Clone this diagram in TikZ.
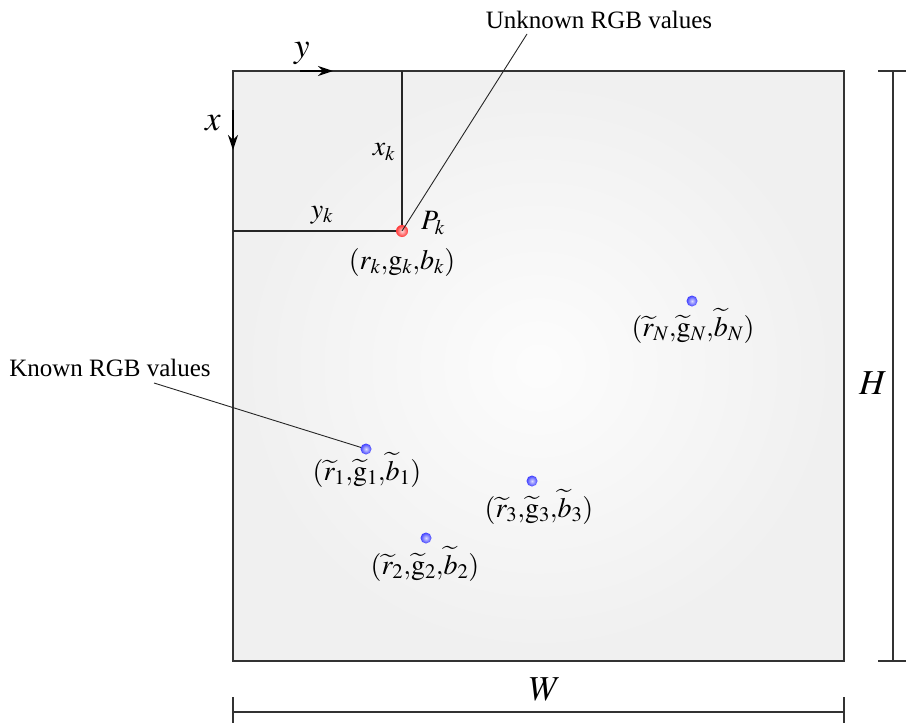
\documentclass[tikz,border=0pt]{standalone}
\usepackage{mathptmx}
\usepackage[no-math]{fontspec}
\setmainfont{Liberation Serif}
\usetikzlibrary{arrows.meta}
\begin{document}
\begin{tikzpicture}[x=1pt,y=-1pt,
  frame/.style={draw=black!80, line width=1.6pt},
  guide/.style={draw=black!85, line width=1.6pt},
  leader/.style={draw=black!85, line width=0.9pt},
  dimline/.style={draw=black!80, line width=1.2pt},
  txt/.style={inner sep=0pt, font=\fontsize{25}{30}\selectfont},
  mth/.style={inner sep=0pt, font=\fontsize{28}{32}\selectfont},
  axlab/.style={inner sep=0pt, font=\fontsize{35}{40}\selectfont},
  bluedot/.style={circle, inner sep=0pt, minimum size=11pt, inner color=blue!15!white, outer color=blue!75!white},
  reddot/.style={circle, inner sep=0pt, minimum size=12pt, inner color=red!15!white, outer color=red!80!white},
  axarrow/.style={-{Stealth[length=15pt,width=10pt]}, line width=1.6pt}]
\useasboundingbox (0,0) rectangle (906,723);
% frame
\coordinate (TL) at (233,71);
\coordinate (BR) at (844,661);
\shade[inner color=white!99!black, outer color=white!94!black] (TL) rectangle (BR);
\draw[frame] (TL) rectangle (BR);
% axes arrows
\coordinate (ya) at (300,71);
\coordinate (yb) at (333,71);
\coordinate (xa) at (233,110);
\coordinate (xb) at (233,150);
\draw[axarrow] (ya) -- (yb);
\draw[axarrow] (xa) -- (xb);
\node[axlab] (ylab) at (302,53) {$y$};
\node[axlab] (xlab) at (213,123) {$x$};
% point Pk and guides
\coordinate (Pkx) at (402,71);
\coordinate (Pky) at (233,231);
\draw[guide] (Pkx) -- (402,231) -- (Pky);
\node[reddot] (Pk) at (402,231) {};
\node[mth] (xk) at (384,152) {$x_k$};
\node[mth] (yk) at (322,215) {$y_k$};
\node[mth] (Pklab) at (433,223) {$P_k$};
\node[mth] (rgbk) at (402,262) {$(r_k{,}\mathrm{g}_k{,}b_k)$};
% unknown label
\node[txt] (unk) at (599,20) {Unknown RGB values};
\coordinate (unkend) at (527,34);
\draw[leader] (unkend) -- (Pk.center);
% known points
\node[mth] (l1) at (367,470) {$(\widetilde{r}_1{,}\widetilde{\mathrm{g}}_1{,}\widetilde{b}_1)$};
\node[mth] (l2) at (425,564) {$(\widetilde{r}_2{,}\widetilde{\mathrm{g}}_2{,}\widetilde{b}_2)$};
\node[mth] (l3) at (539,507) {$(\widetilde{r}_3{,}\widetilde{\mathrm{g}}_3{,}\widetilde{b}_3)$};
\node[mth] (lN) at (693,326) {$(\widetilde{r}_N{,}\widetilde{\mathrm{g}}_N{,}\widetilde{b}_N)$};
\node[txt] (kn) at (110,368) {Known RGB values};
\coordinate (knend) at (154,383);
\draw[leader] (knend) -- (366,449);
\node[bluedot] (d1) at (366,449) {};
\node[bluedot] (d2) at (426,538) {};
\node[bluedot] (d3) at (532,481) {};
\node[bluedot] (dN) at (692,301) {};
% H dimension
\coordinate (H1) at (893,71);
\coordinate (H2) at (893,661);
\coordinate (H1a) at (878,71);
\coordinate (H1b) at (906,71);
\coordinate (H2a) at (878,661);
\coordinate (H2b) at (906,661);
\draw[dimline] (H1) -- (H2);
\draw[dimline] (H1a) -- (H1b);
\draw[dimline] (H2a) -- (H2b);
\node[axlab] (Hlab) at (873,383) {$H$};
% W dimension
\coordinate (W1) at (233,712);
\coordinate (W2) at (844,712);
\coordinate (W1a) at (233,697);
\coordinate (W1b) at (233,723);
\coordinate (W2a) at (844,697);
\coordinate (W2b) at (844,723);
\draw[dimline] (W1) -- (W2);
\draw[dimline] (W1a) -- (W1b);
\draw[dimline] (W2a) -- (W2b);
\node[axlab] (Wlab) at (545,689) {$W$};
\end{tikzpicture}
\end{document}
